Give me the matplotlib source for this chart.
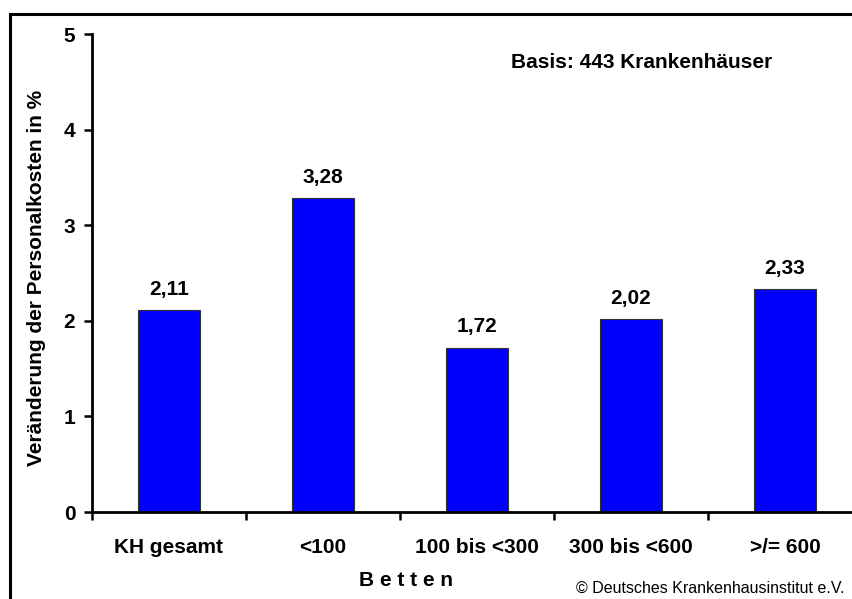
import matplotlib
matplotlib.use("Agg")
import matplotlib.pyplot as plt
from matplotlib.patches import Rectangle
import numpy as np

categories = ["KH gesamt", "<100", "100 bis <300", "300 bis <600", ">/= 600"]
values = [2.11, 3.28, 1.72, 2.02, 2.33]
value_labels = ["2,11", "3,28", "1,72", "2,02", "2,33"]
yticks = [0, 1, 2, 3, 4, 5]

plt.rcParams['font.family'] = ['Liberation Sans', 'DejaVu Sans']

FS = 15
W, H = 852, 599
fig = plt.figure(figsize=(W/100, H/100), dpi=100)

# outer frame
fig.patches.append(Rectangle((10/W, -0.05), 1.2, 1 - 14/H + 0.05, transform=fig.transFigure,
                             fill=False, edgecolor='black', linewidth=2.2, zorder=0))

left, right = 92, 862
top, bottom = 34, 512
ax = fig.add_axes([left/W, 1 - bottom/H, (right-left)/W, (bottom-top)/H])
ax.set_facecolor('none')

x = np.arange(len(categories))
ax.bar(x, values, width=0.40, color='#0000FF', edgecolor='#333333', linewidth=0.8, zorder=2)
for xi, v, lab in zip(x, values, value_labels):
    ax.annotate(lab, (xi, v), xytext=(0, 11), textcoords='offset points', ha='center', va='baseline',
                fontsize=FS, fontweight='bold')

ax.set_xlim(-0.5, len(categories) - 0.5)
ax.set_ylim(0, 5)
ax.set_yticks(yticks)
ax.set_yticklabels([str(t) for t in yticks], fontsize=FS, fontweight='bold')
ax.set_xticks(x - 0.5, minor=False)
ax.set_xticklabels([])
ax.set_xticks(x, minor=True)
ax.set_xticklabels(categories, minor=True, fontsize=FS, fontweight='bold')
ax.tick_params(axis='x', which='minor', length=0, pad=19)
ax.tick_params(axis='x', which='major', length=6, width=1.8, direction='out')
ax.tick_params(axis='y', length=6, width=1.8, direction='out', pad=6)

for s in ['top', 'right']:
    ax.spines[s].set_visible(False)
for s in ['left', 'bottom']:
    ax.spines[s].set_linewidth(2)

fig.text(37/W, 1 - 278/H, "Veränderung der Personalkosten in %", rotation=90, ha='center', va='center',
         fontsize=FS, fontweight='bold')
fig.text(406/W, 1 - 580/H, "B e t t e n", ha='center', va='center', fontsize=FS, fontweight='bold')
fig.text(845/W, 1 - 588/H, "© Deutsches Krankenhausinstitut e.V.", ha='right', va='center', fontsize=11.5)
fig.text(642/W, 1 - 63/H, "Basis: 443 Krankenhäuser", ha='center', va='center', fontsize=FS, fontweight='bold')

fig.savefig("out.png", dpi=100)
